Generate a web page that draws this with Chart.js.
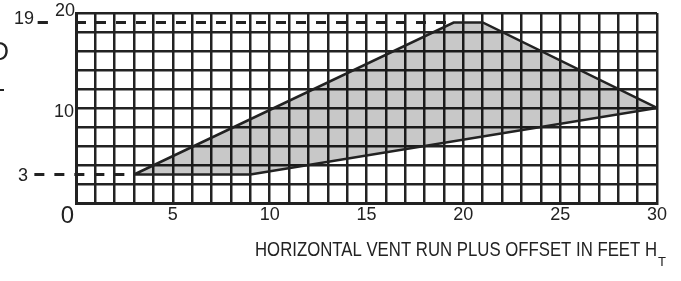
<!DOCTYPE html>
<html>
<head>
<meta charset="utf-8">
<script src="https://cdn.jsdelivr.net/npm/chart.js@4/dist/chart.umd.min.js"></script>
<style>
html,body{margin:0;padding:0;background:#fff;}
#wrap{position:relative;width:681px;height:281px;}
</style>
</head>
<body>
<div id="wrap"><canvas id="c" width="681" height="281"></canvas></div>
<script>
// Data
const regionX = [3, 9, 30, 21, 19.5, 3];
const regionY = [3, 3, 10, 19, 19, 3];
const dashLevels = [19, 3];
const dashEndX = [19.5, 3];
const xTickLabels = [5, 10, 15, 20, 25, 30];
const yTickLabels = [20, 10];
const yMarkLabels = [19, 3];
const xTitle = 'HORIZONTAL VENT RUN PLUS OFFSET IN FEET H';
const xTitleSub = 'T';

const INK = '#222222';
const FONT = '"Liberation Sans", Arial, sans-serif';

const regionPts = regionX.map((x, i) => ({x: x, y: regionY[i]}));

const labelPlugin = {
  id: 'labels',
  afterDraw(chart) {
    const ctx = chart.ctx;
    const xs = chart.scales.x, ys = chart.scales.y;
    ctx.save();
    ctx.fillStyle = INK;
    ctx.textBaseline = 'middle';
    // x tick labels
    ctx.font = '18px ' + FONT;
    ctx.textAlign = 'center';
    xTickLabels.forEach(v => ctx.fillText(String(v), xs.getPixelForValue(v), 215));
    // zero label
    ctx.font = '24px ' + FONT;
    ctx.textAlign = 'right';
    ctx.fillText('0', xs.getPixelForValue(0) - 2, 216);
    // y tick labels
    ctx.font = '18px ' + FONT;
    ctx.textAlign = 'right';
    ctx.fillText(String(yTickLabels[0]), 75, ys.getPixelForValue(yTickLabels[0]) - 2);
    ctx.fillText(String(yTickLabels[1]), 74, ys.getPixelForValue(yTickLabels[1]) + 4);
    ctx.fillText(String(yMarkLabels[0]), 34, ys.getPixelForValue(yMarkLabels[0]) - 3);
    ctx.fillText(String(yMarkLabels[1]), 28, ys.getPixelForValue(yMarkLabels[1]) + 2);
    // x title (slightly condensed to match the reference width)
    ctx.font = '21px ' + FONT;
    ctx.textAlign = 'left';
    const tx = 255, ty = 250;
    const w = ctx.measureText(xTitle).width;
    const sx = 402 / w;
    ctx.save();
    ctx.translate(tx, ty);
    ctx.scale(sx, 1);
    ctx.fillText(xTitle, 0, 0);
    ctx.restore();
    ctx.font = '13px ' + FONT;
    ctx.fillText(xTitleSub, tx + w * sx + 1, ty + 12);
    // cut-off left title fragments
    ctx.font = '26px ' + FONT;
    ctx.textAlign = 'right';
    ctx.fillText('D', 9, 53);
    ctx.fillRect(0, 89, 4, 2);
    ctx.restore();
  }
};

new Chart(document.getElementById('c'), {
  type: 'scatter',
  data: {
    datasets: [
      {
        data: regionPts,
        showLine: true,
        fill: 'shape',
        backgroundColor: 'rgba(0,0,0,0.215)',
        borderColor: INK,
        borderWidth: 2.5,
        pointRadius: 0,
        tension: 0,
        order: 2
      },
      {
        data: [{x: 0, y: dashLevels[0]}, {x: dashEndX[0], y: dashLevels[0]}],
        showLine: true, fill: false,
        borderColor: INK, borderWidth: 3, borderDash: [10, 10],
        pointRadius: 0, clip: false, order: 1
      },
      {
        data: [{x: -1.98, y: dashLevels[0]}, {x: -1.45, y: dashLevels[0]}],
        showLine: true, fill: false,
        borderColor: INK, borderWidth: 3,
        pointRadius: 0, clip: false, order: 1
      },
      {
        data: [{x: -2.15, y: dashLevels[1]}, {x: dashEndX[1], y: dashLevels[1]}],
        showLine: true, fill: false,
        borderColor: INK, borderWidth: 3, borderDash: [10, 10],
        pointRadius: 0, clip: false, order: 1
      }
    ]
  },
  options: {
    responsive: false,
    animation: false,
    devicePixelRatio: 1,
    layout: {padding: {left: 76, right: 24, top: 13, bottom: 78}},
    plugins: {legend: {display: false}, tooltip: {enabled: false}},
    scales: {
      x: {
        type: 'linear', min: 0, max: 30,
        ticks: {display: false, stepSize: 1, maxTicksLimit: 100, autoSkip: false},
        grid: {color: INK, lineWidth: 2.5, drawTicks: false},
        border: {color: INK, width: 3}
      },
      y: {
        type: 'linear', min: 0, max: 20,
        ticks: {display: false, stepSize: 2, maxTicksLimit: 100, autoSkip: false},
        grid: {color: INK, lineWidth: 2.5, drawTicks: false},
        border: {color: INK, width: 3}
      }
    }
  },
  plugins: [labelPlugin]
});
</script>
</body>
</html>
